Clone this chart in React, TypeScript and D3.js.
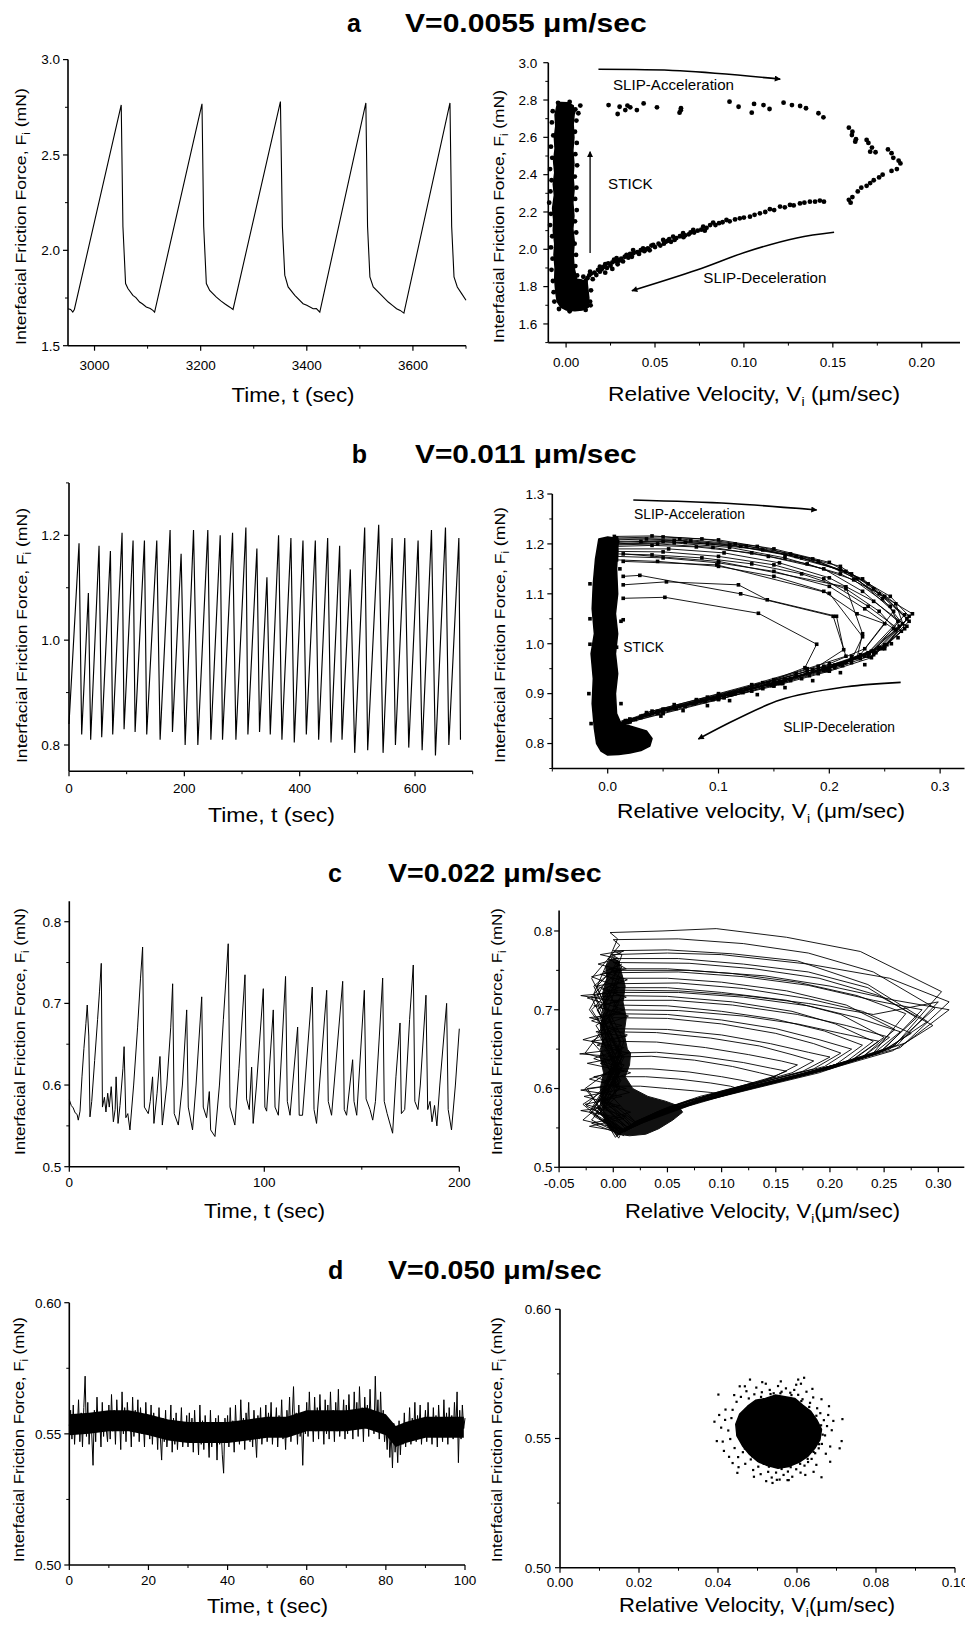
import React from "react";
import * as d3 from "d3";

type P = [number, number];
const FONT = "'Liberation Sans', Arial, Helvetica, sans-serif";

// ---------------- Panel a (V = 0.0055) ----------------
const aLeftSeries: P[] = [
  [2950, 1.694], [2955, 1.69], [2959, 1.676], [2962, 1.69],
  [3050.3, 2.762], [3053.5, 2.125], [3058.5, 1.826], [3062.9, 1.8], [3072.3, 1.764], [3078, 1.752], [3084.9, 1.729], [3090, 1.72], [3097.5, 1.703], [3105, 1.695], [3110, 1.685], [3113.2, 1.676],
  [3202.5, 2.768], [3205.7, 2.125], [3210.7, 1.826], [3217, 1.79], [3229.6, 1.755], [3238, 1.735], [3245.3, 1.72], [3255, 1.702], [3261, 1.69],
  [3350.3, 2.78], [3354, 2.125], [3358.5, 1.87], [3364.8, 1.808], [3377.4, 1.764], [3393, 1.72], [3400, 1.712], [3412, 1.694], [3418, 1.695], [3424.5, 1.676],
  [3511.3, 2.773], [3514.5, 2.125], [3518.9, 1.861], [3525.2, 1.808], [3537.7, 1.773], [3553.5, 1.729], [3562, 1.71], [3569.2, 1.694], [3576, 1.685], [3583, 1.671],
  [3669.8, 2.773], [3673, 2.125], [3677.4, 1.861], [3683.6, 1.808], [3691.8, 1.773], [3700, 1.738],
];

const aStickRegion: P[] = [
  [-0.005, 2.775], [-0.0062, 2.72], [-0.0058, 2.66], [-0.0066, 2.6], [-0.0062, 2.54], [-0.007, 2.47], [-0.0064, 2.41], [-0.0072, 2.35], [-0.0066, 2.29], [-0.0076, 2.22], [-0.007, 2.16], [-0.0072, 2.1], [-0.0064, 2.03], [-0.0068, 1.97], [-0.0062, 1.9], [-0.0064, 1.84], [-0.0058, 1.77], [-0.005, 1.72], [-0.003, 1.69], [0.0, 1.675], [0.005, 1.67], [0.009, 1.675], [0.0125, 1.69], [0.0128, 1.74], [0.0122, 1.79], [0.0118, 1.825], [0.009, 1.835], [0.006, 1.84], [0.0045, 1.9], [0.004, 1.97], [0.0046, 2.04], [0.0038, 2.11], [0.0044, 2.18], [0.0038, 2.25], [0.0045, 2.32], [0.0039, 2.39], [0.0044, 2.46], [0.0038, 2.53], [0.0044, 2.6], [0.004, 2.67], [0.0046, 2.73], [0.004, 2.77], [0.001, 2.785], [-0.003, 2.787],
];
const aStickEdge: P[] = [
  [-0.0075, 2.74], [-0.008, 2.68], [-0.0072, 2.61], [-0.0085, 2.55], [-0.0078, 2.49], [-0.009, 2.43], [-0.0082, 2.37], [-0.0088, 2.31], [-0.0095, 2.25], [-0.0085, 2.19], [-0.009, 2.13], [-0.0078, 2.07], [-0.0085, 2.01], [-0.0076, 1.95], [-0.0082, 1.89], [-0.0074, 1.83], [-0.007, 1.77], [-0.0066, 1.72],
  [0.0052, 2.75], [0.0058, 2.69], [0.005, 2.63], [0.006, 2.57], [0.0052, 2.51], [0.0062, 2.45], [0.0049, 2.39], [0.0058, 2.33], [0.0051, 2.27], [0.006, 2.21], [0.005, 2.15], [0.0057, 2.09], [0.0048, 2.03], [0.0056, 1.97], [0.0052, 1.91], [0.0062, 1.86],
  [0.0135, 1.72], [0.014, 1.78], [0.0138, 1.7], [0.011, 1.675], [0.002, 1.668], [-0.004, 1.68], [0.008, 2.77], [0.002, 2.79], [-0.0045, 2.785],
];

const aSlipPoints: P[] = [
  [0.1447, 2.707], [0.1419, 2.729], [0.1349, 2.756], [0.1316, 2.768], [0.127, 2.773], [0.1223, 2.786], [0.1144, 2.752], [0.111, 2.773], [0.1057, 2.779], [0.1044, 2.732], [0.097, 2.764], [0.0919, 2.791], [0.0646, 2.756], [0.0638, 2.732], [0.0645, 2.745], [0.0511, 2.761], [0.0436, 2.782], [0.0398, 2.746], [0.0361, 2.761], [0.0333, 2.746], [0.0301, 2.764], [0.029, 2.725], [0.0239, 2.773], [0.0345, 2.77], [0.0069, 2.729], [0.0041, 2.737],
  [0.159, 2.652], [0.161, 2.63], [0.1607, 2.612], [0.163, 2.59], [0.1626, 2.577], [0.169, 2.586], [0.17, 2.57], [0.172, 2.545], [0.171, 2.523], [0.174, 2.52], [0.181, 2.535], [0.183, 2.515], [0.184, 2.49], [0.187, 2.475], [0.188, 2.46], [0.186, 2.43], [0.183, 2.42], [0.178, 2.4], [0.176, 2.385], [0.173, 2.37], [0.171, 2.355], [0.169, 2.34], [0.166, 2.33], [0.164, 2.31], [0.161, 2.28], [0.159, 2.265], [0.16, 2.25],
  [0.0097, 1.853], [0.011, 1.83], [0.0135, 1.88], [0.013, 1.86], [0.016, 1.875], [0.018, 1.89], [0.019, 1.907], [0.021, 1.905], [0.022, 1.92], [0.0237, 1.925], [0.026, 1.93], [0.027, 1.945], [0.0284, 1.952], [0.031, 1.95], [0.033, 1.96], [0.034, 1.97], [0.036, 1.975], [0.0377, 1.996], [0.04, 1.985], [0.042, 1.995], [0.0433, 2.005], [0.046, 2.005], [0.048, 2.02], [0.049, 2.023], [0.052, 2.03], [0.0546, 2.05], [0.056, 2.04], [0.058, 2.055], [0.0602, 2.068], [0.062, 2.06], [0.0658, 2.086], [0.067, 2.075], [0.07, 2.09], [0.0715, 2.104], [0.074, 2.1], [0.0771, 2.121], [0.079, 2.115], [0.081, 2.13], [0.0827, 2.143], [0.086, 2.14], [0.0902, 2.157], [0.095, 2.16], [0.0977, 2.166], [0.1034, 2.175], [0.109, 2.193], [0.112, 2.2], [0.1146, 2.215], [0.1203, 2.229], [0.123, 2.225], [0.1259, 2.238], [0.1315, 2.246], [0.1371, 2.255], [0.1427, 2.261],
  [0.012, 1.845], [0.014, 1.87], [0.015, 1.84], [0.017, 1.862], [0.019, 1.88], [0.02, 1.893], [0.022, 1.875], [0.023, 1.9], [0.025, 1.912], [0.026, 1.895], [0.028, 1.935], [0.029, 1.92], [0.03, 1.94], [0.032, 1.935], [0.035, 1.955], [0.037, 1.96], [0.038, 1.98], [0.041, 1.975], [0.044, 1.99], [0.045, 2.0], [0.047, 1.995], [0.05, 2.012], [0.053, 2.02], [0.055, 2.03], [0.057, 2.045], [0.059, 2.04], [0.061, 2.05], [0.064, 2.07], [0.066, 2.065], [0.069, 2.08], [0.072, 2.09], [0.076, 2.105], [0.078, 2.1], [0.084, 2.13], [0.088, 2.145], [0.092, 2.15], [0.1, 2.17], [0.106, 2.185], [0.117, 2.21], [0.128, 2.235], [0.134, 2.25], [0.14, 2.255], [0.145, 2.255],
];

const aAccArrow: P[] = [[0.0182, 2.965], [0.0641, 2.957], [0.1204, 2.912]];
const aDecArrow: P[] = [[0.1507, 2.091], [0.1297, 2.061], [0.1016, 1.987], [0.0735, 1.889], [0.037, 1.778]];
const aStickArrow: P[] = [[0.0135, 1.98], [0.0135, 2.523]];

// ---------------- Panel b (V = 0.011) ----------------
const bLeftSeries: P[] = [
  [0, 0.84], [17.4, 1.185], [22.0, 0.82], [33.6, 1.09], [37.6, 0.81], [52.1, 1.18], [56.7, 0.815], [71.8, 1.17], [75.8, 0.82], [92.0, 1.205], [95.5, 0.83], [111.1, 1.19], [114.6, 0.825], [130.8, 1.19], [134.8, 0.82], [152.2, 1.19], [158.0, 0.81], [175.3, 1.21], [179.4, 0.825], [194.4, 1.165], [201.4, 0.8], [215.9, 1.21], [223.4, 0.8], [240.7, 1.21], [246.0, 0.81], [262.2, 1.2], [266.2, 0.81], [283.6, 1.205], [289.4, 0.81], [306.7, 1.215], [310.2, 0.82], [325.8, 1.175], [330.4, 0.825], [343.2, 1.12], [349.0, 0.82], [363.4, 1.2], [369.2, 0.81], [384.8, 1.195], [390.6, 0.805], [405.7, 1.19], [411.5, 0.82], [427.1, 1.19], [432.9, 0.81], [448.5, 1.195], [454.3, 0.805], [469.3, 1.18], [473.4, 0.81], [487.8, 1.135], [495.4, 0.785], [512.7, 1.215], [517.9, 0.79], [537.0, 1.22], [544.6, 0.785], [560.2, 1.195], [566.0, 0.8], [582.2, 1.195], [589.1, 0.795], [605.3, 1.19], [612.3, 0.79], [628.5, 1.21], [635.4, 0.78], [652.8, 1.215], [658.6, 0.8], [676.0, 1.195], [678.8, 0.81],
];

const bStickRegion: P[] = [
  [-0.008, 1.21], [-0.011, 1.17], [-0.013, 1.12], [-0.014, 1.07], [-0.012, 1.02], [-0.015, 0.98], [-0.013, 0.93], [-0.014, 0.88], [-0.012, 0.83], [-0.01, 0.8], [-0.006, 0.785], [0.0, 0.777], [0.01, 0.778], [0.02, 0.781], [0.03, 0.786], [0.038, 0.795], [0.04, 0.81], [0.035, 0.825], [0.02, 0.835], [0.012, 0.84], [0.008, 0.86], [0.007, 0.9], [0.009, 0.94], [0.007, 0.98], [0.009, 1.02], [0.007, 1.06], [0.009, 1.1], [0.008, 1.15], [0.009, 1.19], [0.006, 1.212], [0.0, 1.214],
];
const bStickStray: P[] = [[-0.016, 0.999], [0.008, 0.993], [0.014, 1.048], [0.012, 1.045], [-0.016, 1.12], [0.011, 0.83], [-0.017, 0.9], [-0.016, 1.05], [0.011, 1.15], [-0.015, 0.84], [0.012, 0.88]];

const bLoops: P[][] = [
  [[0.008, 1.212], [0.05, 1.214], [0.1, 1.208], [0.15, 1.19], [0.2, 1.163], [0.235, 1.12], [0.268, 1.058], [0.24, 0.985], [0.2, 0.952], [0.15, 0.921], [0.1, 0.893], [0.05, 0.866], [0.02, 0.845]],
  [[0.009, 1.205], [0.06, 1.207], [0.11, 1.198], [0.16, 1.178], [0.21, 1.148], [0.245, 1.1], [0.275, 1.06], [0.245, 0.99], [0.21, 0.958], [0.16, 0.926], [0.11, 0.898], [0.06, 0.872], [0.02, 0.848]],
  [[0.008, 1.198], [0.045, 1.2], [0.095, 1.193], [0.145, 1.175], [0.195, 1.15], [0.23, 1.105], [0.262, 1.045], [0.235, 0.982], [0.195, 0.95], [0.145, 0.918], [0.095, 0.89], [0.045, 0.862], [0.015, 0.842]],
  [[0.008, 1.19], [0.055, 1.19], [0.105, 1.182], [0.155, 1.162], [0.2, 1.132], [0.24, 1.085], [0.27, 1.035], [0.24, 0.978], [0.2, 0.947], [0.155, 0.92], [0.105, 0.892], [0.055, 0.868], [0.02, 0.846]],
  [[0.008, 1.185], [0.05, 1.184], [0.1, 1.175], [0.15, 1.158], [0.195, 1.13], [0.235, 1.075], [0.265, 1.025], [0.238, 0.972], [0.2, 0.945], [0.15, 0.915], [0.1, 0.889], [0.05, 0.862], [0.02, 0.843]],
  [[0.007, 1.21], [0.065, 1.21], [0.115, 1.2], [0.165, 1.18], [0.21, 1.155], [0.24, 1.11], [0.27, 1.05], [0.25, 0.995], [0.215, 0.962], [0.165, 0.93], [0.115, 0.9], [0.065, 0.875], [0.02, 0.849]],
  [[0.008, 1.175], [0.05, 1.172], [0.1, 1.162], [0.15, 1.145], [0.2, 1.115], [0.232, 1.07], [0.258, 1.03], [0.232, 0.975], [0.195, 0.946], [0.15, 0.918], [0.1, 0.888], [0.05, 0.86], [0.018, 0.842]],
  [[0.008, 1.2], [0.06, 1.202], [0.11, 1.193], [0.16, 1.172], [0.21, 1.14], [0.25, 1.095], [0.272, 1.045], [0.25, 0.998], [0.21, 0.96], [0.16, 0.928], [0.11, 0.9], [0.06, 0.87], [0.02, 0.846]],
  [[0.008, 1.168], [0.045, 1.165], [0.1, 1.155], [0.15, 1.135], [0.195, 1.105], [0.225, 1.06], [0.25, 1.04], [0.228, 0.978], [0.19, 0.948], [0.145, 0.92], [0.1, 0.892], [0.05, 0.865], [0.02, 0.845]],
  [[0.006, 1.215], [0.04, 1.216], [0.085, 1.21], [0.135, 1.195], [0.185, 1.17], [0.225, 1.13], [0.258, 1.065], [0.232, 0.99], [0.195, 0.955], [0.15, 0.925], [0.1, 0.895], [0.05, 0.868], [0.018, 0.846]],
  [[0.014, 1.091], [0.0516, 1.093], [0.136, 1.061], [0.1886, 0.999], [0.178, 0.952], [0.15, 0.928], [0.1, 0.897], [0.05, 0.869], [0.02, 0.848]],
  [[0.014, 1.118], [0.053, 1.124], [0.118, 1.118], [0.144, 1.088], [0.2065, 1.055], [0.213, 0.988], [0.19, 0.955], [0.14, 0.922], [0.09, 0.893], [0.04, 0.865], [0.016, 0.846]],
  [[0.014, 1.135], [0.029, 1.137], [0.12, 1.1], [0.2035, 1.055], [0.215, 0.975], [0.18, 0.95], [0.13, 0.918], [0.08, 0.888], [0.035, 0.862]],
  [[0.014, 1.165], [0.0985, 1.158], [0.2, 1.101], [0.23, 1.014], [0.22, 0.968], [0.18, 0.945], [0.13, 0.915], [0.08, 0.885], [0.03, 0.855]],
  [[0.014, 1.18], [0.1, 1.165], [0.215, 1.114], [0.23, 1.02], [0.225, 0.972], [0.185, 0.948], [0.135, 0.917], [0.085, 0.887], [0.035, 0.858]],
  [[0.008, 1.203], [0.03, 1.205], [0.07, 1.203], [0.12, 1.195], [0.17, 1.175], [0.215, 1.145], [0.248, 1.09], [0.266, 1.04], [0.245, 0.993], [0.205, 0.957], [0.16, 0.928], [0.12, 0.905], [0.08, 0.883], [0.04, 0.862], [0.015, 0.843]],
  [[0.008, 1.195], [0.04, 1.197], [0.08, 1.194], [0.13, 1.182], [0.18, 1.16], [0.222, 1.128], [0.255, 1.075], [0.263, 1.035], [0.238, 0.985], [0.2, 0.952], [0.155, 0.925], [0.115, 0.902], [0.075, 0.88], [0.035, 0.858], [0.012, 0.84]],
  [[0.008, 1.208], [0.035, 1.21], [0.075, 1.206], [0.125, 1.196], [0.175, 1.172], [0.22, 1.14], [0.255, 1.095], [0.272, 1.055], [0.252, 0.998], [0.215, 0.963], [0.17, 0.934], [0.125, 0.908], [0.085, 0.886], [0.045, 0.864], [0.016, 0.845]],
  [[0.008, 1.18], [0.04, 1.178], [0.085, 1.172], [0.13, 1.16], [0.175, 1.14], [0.215, 1.11], [0.245, 1.065], [0.26, 1.028], [0.236, 0.98], [0.198, 0.949], [0.152, 0.921], [0.11, 0.897], [0.07, 0.876], [0.032, 0.856], [0.012, 0.84]],
  [[0.008, 1.2], [0.05, 1.205], [0.09, 1.2], [0.14, 1.188], [0.19, 1.165], [0.23, 1.13], [0.26, 1.08], [0.268, 1.03], [0.248, 0.99], [0.208, 0.958], [0.165, 0.93], [0.12, 0.905], [0.08, 0.882], [0.04, 0.861], [0.014, 0.843]],
];
const bLowerPts: P[] = [
  [0.03, 0.852], [0.038, 0.858], [0.045, 0.86], [0.055, 0.868], [0.062, 0.87], [0.07, 0.874], [0.078, 0.88], [0.088, 0.884], [0.095, 0.888], [0.105, 0.892], [0.112, 0.898], [0.122, 0.902], [0.13, 0.905], [0.14, 0.91], [0.148, 0.916], [0.158, 0.92], [0.165, 0.926], [0.175, 0.93], [0.182, 0.936], [0.19, 0.94], [0.198, 0.946], [0.205, 0.952], [0.212, 0.956], [0.22, 0.962], [0.228, 0.97], [0.235, 0.975], [0.242, 0.982], [0.25, 0.99], [0.256, 1.0], [0.262, 1.012],
  [0.048, 0.855], [0.068, 0.866], [0.09, 0.876], [0.11, 0.886], [0.135, 0.898], [0.16, 0.912], [0.185, 0.926], [0.21, 0.942], [0.232, 0.958], [0.025, 0.848], [0.06, 0.878], [0.1, 0.9], [0.145, 0.922], [0.17, 0.94], [0.2, 0.96], [0.22, 0.975],
];

const bAccArrow: P[] = [[0.0231, 1.288], [0.1104, 1.281], [0.1886, 1.268]];
const bDecArrow: P[] = [[0.2644, 0.9226], [0.2157, 0.9138], [0.1555, 0.8872], [0.0818, 0.809]];

// ---------------- Panel c (V = 0.022) ----------------
const cLeftSeries: P[] = [
  [0, 0.582], [1, 0.575], [2, 0.572], [3, 0.566], [4, 0.564], [4.6, 0.557], [5.5, 0.568], [6.5, 0.61], [7.5, 0.645], [8.5, 0.675], [9.2, 0.698], [10, 0.66], [10.6, 0.561], [11.5, 0.58], [13, 0.63], [14.5, 0.68], [15.5, 0.715], [16.4, 0.749], [17, 0.573], [18, 0.585], [18.8, 0.567], [19.7, 0.59], [20.5, 0.573], [21.5, 0.598], [22.6, 0.555], [23.5, 0.57], [24, 0.61], [25, 0.553], [26, 0.575], [27.5, 0.62], [28.1, 0.647], [29, 0.56], [30, 0.565], [31.1, 0.545], [33, 0.6], [35, 0.67], [36.5, 0.73], [37.6, 0.769], [38.5, 0.573], [40.5, 0.565], [41.5, 0.58], [42.7, 0.61], [43.4, 0.553], [45, 0.59], [46.5, 0.635], [47.7, 0.551], [50, 0.6], [52, 0.67], [53, 0.724], [53.8, 0.565], [55.9, 0.551], [58, 0.6], [60.2, 0.692], [61, 0.573], [63.2, 0.545], [65, 0.6], [67.9, 0.708], [68.7, 0.573], [70.4, 0.56], [71.8, 0.592], [72.5, 0.545], [74.7, 0.537], [77, 0.6], [79, 0.68], [81.5, 0.773], [82.4, 0.573], [84.9, 0.551], [87, 0.62], [90.1, 0.735], [90.9, 0.583], [92.3, 0.57], [93.5, 0.622], [94.3, 0.553], [96, 0.6], [99.5, 0.718], [100.3, 0.573], [101.2, 0.568], [104.6, 0.692], [105.5, 0.573], [107.2, 0.563], [110.9, 0.733], [111.8, 0.58], [113.2, 0.563], [117.1, 0.671], [117.9, 0.563], [119.6, 0.563], [124.6, 0.72], [125.5, 0.57], [126.8, 0.553], [132, 0.716], [132.8, 0.58], [134.5, 0.563], [140.2, 0.727], [141, 0.57], [142.2, 0.563], [145.3, 0.631], [146, 0.58], [147.4, 0.563], [151.3, 0.716], [152.2, 0.583], [154.2, 0.57], [155.6, 0.557], [157, 0.58], [159, 0.66], [160.7, 0.731], [161.5, 0.58], [163, 0.565], [165.8, 0.541], [167.5, 0.61], [169.6, 0.676], [170.3, 0.565], [172, 0.57], [174.5, 0.68], [176.4, 0.747], [177.2, 0.58], [178.8, 0.57], [180, 0.6], [182.9, 0.71], [183.8, 0.57], [185, 0.58], [186, 0.555], [187.3, 0.575], [188.5, 0.55], [190, 0.6], [193.5, 0.7], [194.3, 0.57], [196, 0.545], [198, 0.6], [200, 0.669],
];

const cStickRegion: P[] = [
  [-0.002, 0.765], [0.005, 0.762], [0.007, 0.75], [0.011, 0.73], [0.009, 0.71], [0.012, 0.69], [0.01, 0.67], [0.013, 0.65], [0.016, 0.645], [0.015, 0.63], [0.011, 0.615], [0.018, 0.6], [0.032, 0.59], [0.048, 0.584], [0.06, 0.578], [0.064, 0.57], [0.055, 0.56], [0.042, 0.549], [0.03, 0.542], [0.015, 0.54], [0.005, 0.542], [-0.004, 0.55], [-0.008, 0.56], [-0.01, 0.58], [-0.012, 0.6], [-0.009, 0.62], [-0.012, 0.64], [-0.01, 0.66], [-0.012, 0.68], [-0.008, 0.7], [-0.01, 0.72], [-0.006, 0.74], [-0.007, 0.755],
];
const cStickJitter: P[] = [
  [0.01, 0.54], [-0.02, 0.556], [0.012, 0.565], [-0.026, 0.58], [0.008, 0.59], [-0.03, 0.598], [0.004, 0.605], [-0.018, 0.615], [0.01, 0.622], [-0.024, 0.632], [0.006, 0.64], [-0.031, 0.644], [0.005, 0.65], [-0.02, 0.66], [0.012, 0.666], [-0.016, 0.672], [0.008, 0.68], [-0.022, 0.69], [0.01, 0.695], [-0.018, 0.705], [0.006, 0.71], [-0.03, 0.718], [0.004, 0.722], [-0.016, 0.73], [0.01, 0.736], [-0.012, 0.745], [0.008, 0.75], [-0.014, 0.758], [0.004, 0.765], [-0.012, 0.77], [0.01, 0.775], [-0.005, 0.765], [0.012, 0.752], [-0.02, 0.742], [0.006, 0.728], [-0.024, 0.715], [0.01, 0.7], [-0.02, 0.686], [0.004, 0.675], [-0.028, 0.662], [0.01, 0.652], [-0.018, 0.638], [0.008, 0.626], [-0.022, 0.612], [0.012, 0.6], [-0.027, 0.59], [0.006, 0.578], [-0.03, 0.572], [0.01, 0.562], [-0.022, 0.552], [0.004, 0.546], [-0.01, 0.56], [0.016, 0.57], [-0.014, 0.585], [0.015, 0.595], [-0.01, 0.608], [0.016, 0.62], [-0.012, 0.632], [0.014, 0.645], [-0.015, 0.655], [0.013, 0.668], [-0.011, 0.68], [0.014, 0.692], [-0.013, 0.703], [0.012, 0.716], [-0.01, 0.726], [0.013, 0.738], [-0.009, 0.748], [0.008, 0.758],
];

const cLoops: P[][] = [
  [[0.02, 0.556], [-0.012, 0.585], [0.006, 0.64], [-0.018, 0.72], [0.004, 0.79], [-0.003, 0.798], [0.045, 0.8], [0.095, 0.803], [0.16, 0.792], [0.228, 0.774], [0.303, 0.723], [0.26, 0.655], [0.2, 0.625], [0.14, 0.604], [0.085, 0.585], [0.04, 0.566], [0.02, 0.556]],
  [[0.02, 0.558], [-0.008, 0.6], [0.01, 0.66], [-0.02, 0.74], [0.006, 0.782], [0.0, 0.789], [0.06, 0.79], [0.12, 0.784], [0.18, 0.772], [0.24, 0.748], [0.297, 0.702], [0.255, 0.65], [0.19, 0.62], [0.13, 0.6], [0.08, 0.583], [0.035, 0.562], [0.015, 0.55]],
  [[0.015, 0.55], [-0.025, 0.578], [0.004, 0.62], [-0.01, 0.7], [0.008, 0.77], [0.0, 0.775], [0.05, 0.776], [0.11, 0.771], [0.17, 0.762], [0.235, 0.732], [0.29, 0.685], [0.25, 0.648], [0.19, 0.622], [0.125, 0.6], [0.07, 0.58], [0.03, 0.56], [0.01, 0.545]],
  [[0.01, 0.545], [-0.015, 0.57], [0.01, 0.64], [-0.022, 0.7], [0.005, 0.765], [-0.002, 0.77], [0.05, 0.772], [0.1, 0.77], [0.18, 0.758], [0.255, 0.74], [0.31, 0.71], [0.265, 0.652], [0.2, 0.627], [0.14, 0.606], [0.08, 0.586], [0.04, 0.568], [0.02, 0.558]],
  [[0.02, 0.558], [-0.01, 0.59], [0.008, 0.65], [-0.015, 0.73], [0.006, 0.76], [0.0, 0.765], [0.06, 0.765], [0.12, 0.758], [0.18, 0.748], [0.235, 0.728], [0.28, 0.69], [0.245, 0.645], [0.18, 0.618], [0.12, 0.598], [0.07, 0.578], [0.03, 0.558], [0.01, 0.548]],
  [[0.01, 0.548], [-0.02, 0.575], [0.005, 0.63], [-0.012, 0.69], [0.008, 0.755], [0.0, 0.76], [0.07, 0.759], [0.13, 0.752], [0.19, 0.74], [0.245, 0.718], [0.295, 0.68], [0.258, 0.648], [0.2, 0.625], [0.135, 0.603], [0.075, 0.582], [0.035, 0.563], [0.015, 0.553]],
  [[0.015, 0.553], [-0.012, 0.59], [0.007, 0.66], [-0.018, 0.72], [0.004, 0.748], [-0.004, 0.752], [0.05, 0.752], [0.11, 0.746], [0.17, 0.735], [0.225, 0.718], [0.27, 0.695], [0.24, 0.645], [0.18, 0.62], [0.12, 0.6], [0.065, 0.578], [0.03, 0.558], [0.012, 0.547]],
  [[0.012, 0.547], [-0.028, 0.56], [0.006, 0.6], [-0.01, 0.68], [0.006, 0.742], [0.0, 0.747], [0.06, 0.748], [0.12, 0.742], [0.18, 0.731], [0.24, 0.712], [0.285, 0.7], [0.25, 0.65], [0.19, 0.624], [0.13, 0.602], [0.075, 0.582], [0.035, 0.562], [0.018, 0.552]],
  [[0.018, 0.552], [-0.01, 0.58], [0.008, 0.64], [-0.02, 0.7], [0.005, 0.735], [-0.003, 0.74], [0.05, 0.74], [0.1, 0.735], [0.16, 0.724], [0.215, 0.706], [0.26, 0.675], [0.23, 0.64], [0.17, 0.617], [0.11, 0.597], [0.06, 0.577], [0.028, 0.558], [0.01, 0.546]],
  [[0.01, 0.546], [-0.018, 0.575], [0.01, 0.63], [-0.026, 0.645], [0.004, 0.7], [-0.006, 0.728], [0.0, 0.733], [0.06, 0.734], [0.12, 0.727], [0.18, 0.714], [0.23, 0.698], [0.275, 0.67], [0.245, 0.645], [0.185, 0.62], [0.125, 0.6], [0.07, 0.58], [0.032, 0.56], [0.014, 0.55]],
  [[0.014, 0.55], [-0.012, 0.58], [0.006, 0.65], [-0.015, 0.7], [0.004, 0.724], [-0.002, 0.728], [0.05, 0.728], [0.1, 0.722], [0.16, 0.712], [0.21, 0.694], [0.25, 0.665], [0.22, 0.636], [0.165, 0.615], [0.105, 0.595], [0.055, 0.574], [0.025, 0.556], [0.01, 0.545]],
  [[0.01, 0.545], [-0.02, 0.57], [0.005, 0.62], [-0.01, 0.68], [0.007, 0.717], [0.0, 0.722], [0.06, 0.722], [0.12, 0.716], [0.18, 0.705], [0.225, 0.69], [0.265, 0.672], [0.238, 0.642], [0.18, 0.62], [0.12, 0.599], [0.065, 0.579], [0.03, 0.559], [0.014, 0.549]],
  [[0.014, 0.549], [-0.014, 0.585], [0.008, 0.64], [-0.02, 0.715], [0.0, 0.718], [0.05, 0.717], [0.11, 0.71], [0.165, 0.698], [0.205, 0.682], [0.24, 0.66], [0.215, 0.634], [0.16, 0.613], [0.1, 0.593], [0.05, 0.572], [0.022, 0.555], [0.008, 0.544]],
  [[0.008, 0.544], [-0.018, 0.565], [0.006, 0.61], [-0.012, 0.67], [0.005, 0.708], [-0.002, 0.712], [0.055, 0.712], [0.11, 0.706], [0.17, 0.694], [0.215, 0.68], [0.255, 0.665], [0.228, 0.638], [0.17, 0.617], [0.11, 0.597], [0.06, 0.577], [0.028, 0.558], [0.012, 0.548]],
  [[0.012, 0.548], [-0.01, 0.58], [0.008, 0.64], [-0.015, 0.69], [0.004, 0.703], [0.0, 0.706], [0.05, 0.705], [0.1, 0.698], [0.15, 0.688], [0.195, 0.673], [0.23, 0.655], [0.205, 0.63], [0.15, 0.611], [0.095, 0.592], [0.05, 0.572], [0.022, 0.555], [0.008, 0.545]],
  [[0.008, 0.545], [-0.022, 0.57], [0.006, 0.62], [-0.014, 0.67], [0.0, 0.7], [0.06, 0.699], [0.12, 0.692], [0.17, 0.682], [0.21, 0.67], [0.245, 0.66], [0.22, 0.635], [0.165, 0.614], [0.105, 0.594], [0.055, 0.574], [0.025, 0.556], [0.01, 0.546]],
  [[0.01, 0.546], [-0.012, 0.575], [0.008, 0.63], [-0.016, 0.68], [0.0, 0.695], [0.05, 0.694], [0.1, 0.687], [0.15, 0.676], [0.19, 0.662], [0.22, 0.65], [0.195, 0.628], [0.14, 0.609], [0.09, 0.591], [0.045, 0.57], [0.02, 0.554], [0.006, 0.543]],
  [[0.006, 0.543], [-0.02, 0.56], [0.004, 0.6], [-0.012, 0.65], [0.0, 0.69], [0.05, 0.689], [0.1, 0.682], [0.15, 0.67], [0.185, 0.657], [0.21, 0.645], [0.185, 0.625], [0.135, 0.607], [0.085, 0.589], [0.045, 0.57], [0.02, 0.554], [0.008, 0.545]],
  [[0.008, 0.545], [-0.014, 0.575], [0.006, 0.62], [-0.02, 0.66], [0.0, 0.676], [0.05, 0.675], [0.1, 0.668], [0.145, 0.657], [0.18, 0.646], [0.2, 0.64], [0.175, 0.622], [0.125, 0.604], [0.08, 0.587], [0.04, 0.568], [0.018, 0.553], [0.006, 0.544]],
  [[0.006, 0.544], [-0.026, 0.6], [0.004, 0.63], [-0.01, 0.66], [0.0, 0.672], [0.04, 0.671], [0.09, 0.664], [0.135, 0.654], [0.165, 0.643], [0.185, 0.635], [0.165, 0.62], [0.12, 0.603], [0.075, 0.586], [0.04, 0.568], [0.018, 0.553], [0.006, 0.544]],
  [[0.006, 0.544], [-0.012, 0.57], [0.006, 0.62], [-0.008, 0.65], [0.0, 0.66], [0.04, 0.659], [0.085, 0.652], [0.125, 0.643], [0.155, 0.635], [0.17, 0.63], [0.15, 0.616], [0.11, 0.6], [0.07, 0.584], [0.035, 0.566], [0.015, 0.552], [0.005, 0.542]],
  [[0.005, 0.542], [-0.028, 0.58], [0.005, 0.61], [-0.01, 0.635], [0.0, 0.645], [0.04, 0.646], [0.08, 0.641], [0.12, 0.633], [0.145, 0.626], [0.16, 0.622], [0.14, 0.611], [0.1, 0.597], [0.065, 0.582], [0.033, 0.565], [0.014, 0.551], [0.004, 0.541]],
  [[0.004, 0.541], [-0.01, 0.57], [0.007, 0.61], [-0.005, 0.635], [0.0, 0.64], [0.035, 0.641], [0.075, 0.636], [0.11, 0.628], [0.135, 0.62], [0.15, 0.615], [0.13, 0.606], [0.095, 0.594], [0.06, 0.58], [0.03, 0.563], [0.012, 0.55], [0.004, 0.54]],
  [[0.004, 0.54], [-0.015, 0.565], [0.005, 0.6], [-0.004, 0.62], [0.0, 0.625], [0.035, 0.625], [0.07, 0.621], [0.1, 0.615], [0.12, 0.61], [0.13, 0.607], [0.11, 0.6], [0.08, 0.59], [0.05, 0.576], [0.026, 0.561], [0.01, 0.549], [0.003, 0.54]],
  [[0.003, 0.54], [-0.024, 0.6], [0.004, 0.605], [0.0, 0.615], [0.03, 0.615], [0.06, 0.612], [0.09, 0.607], [0.108, 0.603], [0.115, 0.6], [0.098, 0.594], [0.07, 0.585], [0.045, 0.573], [0.022, 0.559], [0.008, 0.547], [0.002, 0.538]],
  [[0.002, 0.538], [-0.012, 0.57], [0.003, 0.59], [0.0, 0.603], [0.025, 0.603], [0.05, 0.6], [0.075, 0.597], [0.09, 0.595], [0.095, 0.594], [0.08, 0.588], [0.06, 0.58], [0.04, 0.57], [0.02, 0.557], [0.008, 0.546], [0.005, 0.537]],
  [[0.005, 0.537], [-0.016, 0.58], [0.008, 0.64], [-0.014, 0.7], [0.0, 0.725], [0.06, 0.724], [0.12, 0.718], [0.18, 0.708], [0.24, 0.694], [0.3, 0.71], [0.262, 0.655], [0.2, 0.626], [0.14, 0.605], [0.08, 0.584], [0.04, 0.566], [0.018, 0.553]],
  [[0.018, 0.553], [-0.01, 0.59], [0.006, 0.66], [-0.018, 0.73], [0.0, 0.75], [0.07, 0.75], [0.14, 0.743], [0.2, 0.73], [0.26, 0.712], [0.31, 0.7], [0.27, 0.658], [0.21, 0.63], [0.15, 0.609], [0.09, 0.588], [0.045, 0.568], [0.02, 0.556]],
];

// ---------------- Panel d (V = 0.050) ----------------
const dLeftStep = 1 / 3; // sampling interval, sec
const dLeftForce: number[] = [
  0.553, 0.559, 0.548, 0.561, 0.546, 0.557, 0.551, 0.563, 0.547, 0.558, 0.545, 0.56, 0.572, 0.549, 0.562, 0.546, 0.556, 0.55, 0.538, 0.559, 0.547, 0.564, 0.551, 0.557, 0.545, 0.562, 0.549, 0.558, 0.552, 0.547,
  0.561, 0.548, 0.565, 0.551, 0.559, 0.546, 0.563, 0.552, 0.557, 0.544, 0.566, 0.55, 0.56, 0.547, 0.562, 0.553, 0.558, 0.545, 0.564, 0.549, 0.559, 0.552, 0.563, 0.547, 0.56, 0.55, 0.556, 0.545, 0.562, 0.551,
  0.557, 0.548, 0.561, 0.546, 0.558, 0.55, 0.555, 0.544, 0.56, 0.549, 0.54, 0.556, 0.547, 0.559, 0.545, 0.553, 0.549, 0.561, 0.543, 0.556, 0.546, 0.558, 0.544, 0.554, 0.548, 0.56, 0.545, 0.552, 0.547, 0.557,
  0.545, 0.558, 0.547, 0.556, 0.543, 0.559, 0.548, 0.553, 0.542, 0.561, 0.546, 0.555, 0.544, 0.557, 0.549, 0.552, 0.541, 0.559, 0.545, 0.554, 0.547, 0.556, 0.54, 0.557, 0.546, 0.553, 0.542, 0.535, 0.556, 0.548,
  0.557, 0.545, 0.56, 0.548, 0.555, 0.543, 0.561, 0.549, 0.554, 0.546, 0.563, 0.55, 0.556, 0.544, 0.558, 0.551, 0.562, 0.547, 0.555, 0.545, 0.559, 0.55, 0.541, 0.557, 0.548, 0.56, 0.546, 0.554, 0.549, 0.561,
  0.547, 0.558, 0.55, 0.562, 0.546, 0.556, 0.551, 0.56, 0.545, 0.557, 0.549, 0.563, 0.548, 0.555, 0.544, 0.559, 0.551, 0.564, 0.547, 0.556, 0.568, 0.55, 0.558, 0.546, 0.561, 0.549, 0.555, 0.538, 0.557, 0.55,
  0.562, 0.549, 0.566, 0.552, 0.558, 0.547, 0.564, 0.551, 0.56, 0.548, 0.565, 0.553, 0.557, 0.546, 0.563, 0.55, 0.561, 0.548, 0.566, 0.552, 0.559, 0.547, 0.562, 0.551, 0.567, 0.549, 0.558, 0.553, 0.563, 0.548,
  0.561, 0.55, 0.565, 0.553, 0.559, 0.548, 0.566, 0.552, 0.562, 0.549, 0.568, 0.554, 0.56, 0.547, 0.564, 0.552, 0.561, 0.549, 0.567, 0.553, 0.558, 0.55, 0.572, 0.552, 0.563, 0.548, 0.566, 0.551, 0.559, 0.547,
  0.553, 0.544, 0.556, 0.541, 0.551, 0.537, 0.554, 0.543, 0.55, 0.539, 0.555, 0.542, 0.552, 0.546, 0.558, 0.545, 0.554, 0.548, 0.56, 0.546, 0.556, 0.549, 0.562, 0.547, 0.557, 0.55, 0.561, 0.546, 0.555, 0.551,
  0.559, 0.547, 0.562, 0.55, 0.556, 0.546, 0.56, 0.549, 0.557, 0.545, 0.561, 0.551, 0.555, 0.547, 0.563, 0.549, 0.558, 0.546, 0.56, 0.55, 0.557, 0.548, 0.562, 0.551, 0.566, 0.539, 0.559, 0.548, 0.561, 0.552, 0.556,
];
// dense core of the noise band (upper / lower edge of the solid black region)
const dBandUpper: P[] = [[0, 0.5575], [5, 0.558], [10, 0.559], [15, 0.559], [20, 0.5575], [25, 0.5555], [30, 0.5545], [35, 0.5545], [40, 0.5545], [45, 0.5555], [50, 0.5565], [55, 0.5565], [60, 0.559], [65, 0.559], [70, 0.559], [75, 0.56], [80, 0.5575], [82.5, 0.553], [85, 0.5545], [90, 0.5565], [95, 0.5565], [99.7, 0.5565]];
const dBandLower: P[] = [[0, 0.5495], [5, 0.55], [10, 0.551], [15, 0.551], [20, 0.5495], [25, 0.5475], [30, 0.5465], [35, 0.5465], [40, 0.5465], [45, 0.5475], [50, 0.5485], [55, 0.5485], [60, 0.551], [65, 0.551], [70, 0.551], [75, 0.552], [80, 0.5495], [82.5, 0.545], [85, 0.5465], [90, 0.5485], [95, 0.5485], [99.7, 0.5485]];

const dCoreRegion: P[] = [
  [0.0445, 0.5555], [0.0455, 0.5595], [0.0475, 0.5625], [0.0495, 0.5648], [0.052, 0.5655], [0.0545, 0.5668], [0.057, 0.5662], [0.0595, 0.5655], [0.0615, 0.5628], [0.0635, 0.5605], [0.065, 0.5572], [0.0662, 0.5535], [0.0658, 0.5495], [0.0645, 0.5462], [0.0628, 0.5432], [0.0605, 0.5408], [0.058, 0.5392], [0.0552, 0.5385], [0.0525, 0.5395], [0.05, 0.5412], [0.048, 0.5438], [0.0462, 0.5472], [0.0448, 0.551],
];
const dRightPoints: P[] = [
  [0.0418, 0.5572], [0.0431, 0.5498], [0.0426, 0.5531], [0.0437, 0.5611], [0.0442, 0.5463], [0.0434, 0.5579], [0.0447, 0.5642], [0.0451, 0.5428], [0.0449, 0.5517], [0.0458, 0.5661], [0.0463, 0.5447], [0.0469, 0.5402], [0.0472, 0.5683], [0.0478, 0.5655], [0.0483, 0.5419], [0.0489, 0.5378], [0.0492, 0.5671], [0.0497, 0.5697], [0.0502, 0.5391], [0.0508, 0.5362], [0.0511, 0.5679], [0.0516, 0.5402], [0.0521, 0.5712], [0.0527, 0.5371], [0.0531, 0.5688], [0.0536, 0.5349], [0.0541, 0.5675], [0.0547, 0.5368], [0.0552, 0.5703], [0.0556, 0.5341], [0.0561, 0.5681], [0.0566, 0.5359], [0.0572, 0.5694], [0.0577, 0.5372], [0.0583, 0.5677], [0.0588, 0.5352], [0.0593, 0.5688], [0.0598, 0.5381], [0.0603, 0.5669], [0.0609, 0.5368], [0.0614, 0.5652], [0.0619, 0.5395], [0.0624, 0.5681], [0.0628, 0.5409], [0.0633, 0.5638], [0.0637, 0.5421], [0.0641, 0.5659], [0.0646, 0.5443], [0.0651, 0.5617], [0.0655, 0.5462], [0.0659, 0.5598], [0.0663, 0.5479], [0.0668, 0.5571], [0.0671, 0.5512], [0.0676, 0.5548], [0.0679, 0.5591], [0.0684, 0.5469], [0.0688, 0.5532], [0.0692, 0.5568], [0.0681, 0.5625], [0.0673, 0.5441], [0.0662, 0.5652], [0.0649, 0.5398], [0.0639, 0.5692], [0.0621, 0.5359], [0.0598, 0.5708], [0.0579, 0.5339], [0.0559, 0.5721], [0.0538, 0.5328], [0.0512, 0.5718], [0.0491, 0.5352], [0.0468, 0.5702], [0.0452, 0.5389], [0.0441, 0.5668], [0.0428, 0.5429], [0.0419, 0.5612], [0.0412, 0.5488], [0.0408, 0.5542], [0.0403, 0.5591], [0.0415, 0.5452],
  [0.0452, 0.5538], [0.0459, 0.5582], [0.0461, 0.5491], [0.0471, 0.5612], [0.0468, 0.5461], [0.0489, 0.5632], [0.0487, 0.5431], [0.0509, 0.5661], [0.0506, 0.5409], [0.0533, 0.5672], [0.0529, 0.5391], [0.0558, 0.5675], [0.0561, 0.5382], [0.0586, 0.5668], [0.0584, 0.5389], [0.0611, 0.5645], [0.0608, 0.5402], [0.0631, 0.5622], [0.0627, 0.5421], [0.0649, 0.5588], [0.0642, 0.5448], [0.0661, 0.5551], [0.0656, 0.5478], [0.0665, 0.5515],
  [0.0603, 0.5728], [0.0481, 0.5728], [0.0401, 0.567], [0.0449, 0.5367], [0.0662, 0.535], [0.0576, 0.5339], [0.0549, 0.534], [0.0684, 0.541], [0.061, 0.5712], [0.0397, 0.549], [0.0713, 0.549], [0.0708, 0.5462], [0.0391, 0.5565], [0.0715, 0.5575], [0.0618, 0.5735], [0.0455, 0.5702], [0.0437, 0.5405], [0.0522, 0.5335], [0.0642, 0.5371],
];

// ---------------- helpers ----------------
const lin = (d: [number, number], r: [number, number]) => d3.scaleLinear().domain(d).range(r);
type S = d3.ScaleLinear<number, number>;

function Axes(props: {
  xs: S; ys: S; xMaj: number[]; xMin: number[]; yMaj: number[]; yMin: number[];
  xf: (v: number) => string; yf: (v: number) => string; xOff: number; yGap: number;
}) {
  const { xs, ys, xMaj, xMin, yMaj, yMin, xf, yf, xOff, yGap } = props;
  const [xa, xb] = xs.range();
  const [yb, ya] = ys.range();
  return (
    <g fontFamily={FONT} fontSize={13.5} fill="#000">
      <line x1={xa} x2={xb} y1={yb} y2={yb} stroke="#000" strokeWidth={1.6} />
      <line x1={xa} x2={xa} y1={yb} y2={ya} stroke="#000" strokeWidth={1.6} />
      {xMaj.map((v) => (
        <g key={"xM" + v}>
          <line x1={xs(v)} x2={xs(v)} y1={yb} y2={yb + 5} stroke="#000" strokeWidth={1.2} />
          <text x={xs(v)} y={yb + xOff} textAnchor="middle">{xf(v)}</text>
        </g>
      ))}
      {xMin.map((v) => (
        <line key={"xm" + v} x1={xs(v)} x2={xs(v)} y1={yb} y2={yb + 3} stroke="#000" strokeWidth={1} />
      ))}
      {yMaj.map((v) => (
        <g key={"yM" + v}>
          <line x1={xa - 5} x2={xa} y1={ys(v)} y2={ys(v)} stroke="#000" strokeWidth={1.2} />
          <text x={xa - yGap} y={ys(v) + 4.8} textAnchor="end">{yf(v)}</text>
        </g>
      ))}
      {yMin.map((v) => (
        <line key={"ym" + v} x1={xa - 3} x2={xa} y1={ys(v)} y2={ys(v)} stroke="#000" strokeWidth={1} />
      ))}
    </g>
  );
}

function YLabel({ x, y, len }: { x: number; y: number; len: number }) {
  return (
    <text transform={`translate(${x},${y}) rotate(-90)`} textAnchor="middle" fontFamily={FONT} fontSize={15.5}
      textLength={len} lengthAdjust="spacingAndGlyphs">
      Interfacial Friction Force, F<tspan fontSize={10} dy={4}>i</tspan><tspan dy={-4}> (mN)</tspan>
    </text>
  );
}

function TimeLabel({ x, y, len }: { x: number; y: number; len: number }) {
  return (
    <text x={x} y={y} textAnchor="middle" fontFamily={FONT} fontSize={21} textLength={len} lengthAdjust="spacingAndGlyphs">
      Time, t (sec)
    </text>
  );
}

function VelLabel({ x, y, len, word, space }: { x: number; y: number; len: number; word: string; space: boolean }) {
  return (
    <text x={x} y={y} textAnchor="middle" fontFamily={FONT} fontSize={21} textLength={len} lengthAdjust="spacingAndGlyphs">
      {`Relative ${word}, V`}<tspan fontSize={13} dy={5}>i</tspan><tspan dy={-5}>{space ? " (μm/sec)" : "(μm/sec)"}</tspan>
    </text>
  );
}

function Title({ lx, vx, y, letter, text, w }: { lx: number; vx: number; y: number; letter: string; text: string; w: number }) {
  return (
    <g fontFamily={FONT} fontWeight="bold" fontSize={25}>
      <text x={lx} y={y}>{letter}</text>
      <text x={vx} y={y} textLength={w} lengthAdjust="spacingAndGlyphs">{text}</text>
    </g>
  );
}

const lineGen = (xs: S, ys: S, curve?: d3.CurveFactory) => {
  const g = d3.line<P>().x((d) => xs(d[0])).y((d) => ys(d[1]));
  if (curve) g.curve(curve);
  return g;
};

const f0 = (v: number) => String(v);
const f1 = (v: number) => v.toFixed(1);
const f2 = (v: number) => v.toFixed(2);

export default function App() {
  const aLx = lin([2950, 3700], [68, 466]), aLy = lin([1.5, 3.0], [345.7, 59.6]);
  const aRx = lin([-0.01, 0.2215], [548.3, 960]), aRy = lin([1.5, 3.0], [342.6, 62.7]);
  const bLx = lin([0, 700], [69, 472.7]), bLy = lin([0.75, 1.3], [771.2, 482.9]);
  const bRx = lin([-0.05, 0.322], [552.3, 964.5]), bRy = lin([0.75, 1.3], [768.5, 494]);
  const cLx = lin([0, 200], [69.3, 459.3]), cLy = lin([0.5, 0.825], [1166.7, 901.3]);
  const cRx = lin([-0.05, 0.324], [559.1, 964.3]), cRy = lin([0.5, 0.826], [1167.3, 910.5]);
  const dLx = lin([0, 100], [69.3, 465]), dLy = lin([0.5, 0.6], [1565, 1302.7]);
  const dRx = lin([0, 0.1], [560, 955]), dRy = lin([0.5, 0.6], [1567.7, 1309.3]);

  const dLeftSeries: P[] = dLeftForce.map((f, i) => [i * dLeftStep, f]);
  const dBand = d3.area<number>()
    .x((i) => dLx(dBandUpper[i][0]))
    .y0((i) => dLy(dBandLower[i][1]))
    .y1((i) => dLy(dBandUpper[i][1]))(dBandUpper.map((_, i) => i)) || "";

  const arrow = (pts: P[], xs: S, ys: S, key: string, w = 1.4) => (
    <path key={key} d={lineGen(xs, ys, d3.curveCatmullRom)(pts) || ""} fill="none" stroke="#000" strokeWidth={w} markerEnd="url(#ah)" />
  );

  return (
    <div style={{ position: "absolute", left: 0, top: 0 }}>
      <svg width={965} height={1628} viewBox="0 0 965 1628" style={{ display: "block", background: "#fff" }}>
        <defs>
          <marker id="ah" viewBox="0 0 10 10" refX={9} refY={5} markerWidth={10} markerHeight={6} markerUnits="userSpaceOnUse" orient="auto">
            <path d="M0,0 L10,5 L0,10 z" fill="#000" />
          </marker>
        </defs>
        <rect x={0} y={0} width={965} height={1628} fill="#fff" />

        <Title lx={347} vx={405} y={31.7} letter="a" text="V=0.0055 μm/sec" w={241.7} />
        <Title lx={351.7} vx={415} y={462.7} letter="b" text="V=0.011 μm/sec" w={221.7} />
        <Title lx={328} vx={388} y={881.7} letter="c" text="V=0.022 μm/sec" w={213.7} />
        <Title lx={328} vx={388} y={1279.3} letter="d" text="V=0.050 μm/sec" w={213.7} />

        {/* a left */}
        <path d={lineGen(aLx, aLy)(aLeftSeries) || ""} fill="none" stroke="#000" strokeWidth={1.1} />
        <Axes xs={aLx} ys={aLy} xMaj={[3000, 3200, 3400, 3600]} xMin={[3100, 3300, 3500, 3700]}
          yMaj={[1.5, 2.0, 2.5, 3.0]} yMin={[1.75, 2.25, 2.75]} xf={f0} yf={f1} xOff={24} yGap={8} />
        <YLabel x={25.5} y={216.5} len={257} />
        <TimeLabel x={293} y={401.7} len={123} />

        {/* a right */}
        <path d={lineGen(aRx, aRy)(aStickRegion) + "Z"} fill="#000" stroke="#000" strokeWidth={1.5} strokeLinejoin="round" />
        {aStickEdge.map((p, i) => (
          <circle key={"ae" + i} cx={aRx(p[0])} cy={aRy(p[1])} r={2.4} fill="#000" />
        ))}
        {aSlipPoints.map((p, i) => (
          <circle key={"as" + i} cx={aRx(p[0])} cy={aRy(p[1])} r={2.4} fill="#000" />
        ))}
        {arrow(aAccArrow, aRx, aRy, "aacc", 1.6)}
        {arrow(aDecArrow, aRx, aRy, "adec", 1.6)}
        {arrow(aStickArrow, aRx, aRy, "astk", 1.3)}
        <g fontFamily={FONT} fontSize={15}>
          <text x={aRx(0.0264)} y={aRy(2.854)} textLength={121} lengthAdjust="spacingAndGlyphs">SLIP-Acceleration</text>
          <text x={aRx(0.0236)} y={aRy(2.3205)} textLength={44.7} lengthAdjust="spacingAndGlyphs">STICK</text>
          <text x={aRx(0.0772)} y={aRy(1.818)} textLength={123} lengthAdjust="spacingAndGlyphs">SLIP-Deceleration</text>
        </g>
        <Axes xs={aRx} ys={aRy} xMaj={[0, 0.05, 0.1, 0.15, 0.2]} xMin={[0.025, 0.075, 0.125, 0.175]}
          yMaj={[1.6, 1.8, 2.0, 2.2, 2.4, 2.6, 2.8, 3.0]} yMin={[1.5, 1.7, 1.9, 2.1, 2.3, 2.5, 2.7, 2.9]} xf={f2} yf={f1} xOff={24} yGap={11} />
        <YLabel x={503.5} y={216.5} len={253} />
        <VelLabel x={754} y={401} len={292} word="Velocity" space={true} />

        {/* b left */}
        <path d={lineGen(bLx, bLy)(bLeftSeries) || ""} fill="none" stroke="#000" strokeWidth={1.15} />
        <Axes xs={bLx} ys={bLy} xMaj={[0, 200, 400, 600]} xMin={[100, 300, 500, 700]}
          yMaj={[0.8, 1.0, 1.2]} yMin={[0.9, 1.1, 1.3]} xf={f0} yf={f1} xOff={22} yGap={9} />
        <YLabel x={26.5} y={635.5} len={255} />
        <TimeLabel x={271.5} y={821.7} len={127} />

        {/* b right */}
        {bLoops.map((lp, i) => (
          <path key={"bl" + i} d={lineGen(bRx, bRy)(lp) || ""} fill="none" stroke="#000" strokeWidth={0.9} />
        ))}
        {bLoops.map((lp, i) =>
          lp.map((p, j) => (
            <rect key={`bq${i}-${j}`} x={bRx(p[0]) - 1.8} y={bRy(p[1]) - 1.8} width={3.6} height={3.6} fill="#000" />
          ))
        )}
        {bLowerPts.map((p, i) => (
          <rect key={"blp" + i} x={bRx(p[0]) - 1.8} y={bRy(p[1]) - 1.8} width={3.6} height={3.6} fill="#000" />
        ))}
        <path d={lineGen(bRx, bRy)(bStickRegion) + "Z"} fill="#000" stroke="#000" strokeWidth={1.5} strokeLinejoin="round" />
        {bStickStray.map((p, i) => (
          <rect key={"bs" + i} x={bRx(p[0]) - 1.8} y={bRy(p[1]) - 1.8} width={3.6} height={3.6} fill="#000" />
        ))}
        {arrow(bAccArrow, bRx, bRy, "bacc", 1.6)}
        {arrow(bDecArrow, bRx, bRy, "bdec", 1.6)}
        <g fontFamily={FONT} fontSize={14}>
          <text x={bRx(0.0237)} y={bRy(1.2493)} textLength={111} lengthAdjust="spacingAndGlyphs">SLIP-Acceleration</text>
          <text x={bRx(0.0141)} y={bRy(0.984)} textLength={40.7} lengthAdjust="spacingAndGlyphs">STICK</text>
          <text x={bRx(0.1585)} y={bRy(0.8224)} textLength={111.7} lengthAdjust="spacingAndGlyphs">SLIP-Deceleration</text>
        </g>
        <Axes xs={bRx} ys={bRy} xMaj={[0, 0.1, 0.2, 0.3]} xMin={[-0.05, 0.05, 0.15, 0.25]}
          yMaj={[0.8, 0.9, 1.0, 1.1, 1.2, 1.3]} yMin={[0.75, 0.85, 0.95, 1.05, 1.15, 1.25]} xf={f1} yf={f1} xOff={22} yGap={8} />
        <YLabel x={505} y={635} len={256} />
        <VelLabel x={761} y={818.3} len={288} word="velocity" space={true} />

        {/* c left */}
        <path d={lineGen(cLx, cLy)(cLeftSeries) || ""} fill="none" stroke="#000" strokeWidth={1} />
        <Axes xs={cLx} ys={cLy} xMaj={[0, 100, 200]} xMin={[50, 150]}
          yMaj={[0.5, 0.6, 0.7, 0.8]} yMin={[0.55, 0.65, 0.75]} xf={f0} yf={f1} xOff={20} yGap={8} />
        <YLabel x={25} y={1031.5} len={247} />
        <TimeLabel x={264.5} y={1218.3} len={121} />

        {/* c right */}
        <path d={lineGen(cRx, cRy)(cStickRegion) + "Z"} fill="#111" stroke="#111" strokeWidth={1} strokeLinejoin="round" />
        <path d={lineGen(cRx, cRy)(cStickJitter) || ""} fill="none" stroke="#000" strokeWidth={0.9} />
        {cLoops.map((lp, i) => (
          <path key={"cl" + i} d={lineGen(cRx, cRy)(lp) || ""} fill="none" stroke="#000" strokeWidth={0.9} />
        ))}
        <Axes xs={cRx} ys={cRy} xMaj={[-0.05, 0, 0.05, 0.1, 0.15, 0.2, 0.25, 0.3]} xMin={[-0.025, 0.025, 0.075, 0.125, 0.175, 0.225, 0.275]}
          yMaj={[0.5, 0.6, 0.7, 0.8]} yMin={[0.55, 0.65, 0.75]} xf={f2} yf={f1} xOff={21} yGap={6.5} />
        <YLabel x={501.5} y={1031.5} len={247} />
        <VelLabel x={762.5} y={1218.3} len={275} word="Velocity" space={false} />

        {/* d left */}
        <path d={dBand} fill="#000" />
        <path d={lineGen(dLx, dLy)(dLeftSeries) || ""} fill="none" stroke="#000" strokeWidth={1} />
        <Axes xs={dLx} ys={dLy} xMaj={[0, 20, 40, 60, 80, 100]} xMin={[10, 30, 50, 70, 90]}
          yMaj={[0.5, 0.55, 0.6]} yMin={[0.525, 0.575]} xf={f0} yf={f2} xOff={20} yGap={8} />
        <YLabel x={24} y={1439.5} len={245} />
        <TimeLabel x={267.5} y={1613.3} len={121} />

        {/* d right */}
        <path d={lineGen(dRx, dRy)(dCoreRegion) + "Z"} fill="#000" stroke="#000" strokeWidth={1.5} strokeLinejoin="round" />
        {dRightPoints.map((p, i) => (
          <rect key={"dp" + i} x={dRx(p[0]) - 1.1} y={dRy(p[1]) - 1.1} width={2.2} height={2.2} fill="#000" />
        ))}
        <Axes xs={dRx} ys={dRy} xMaj={[0, 0.02, 0.04, 0.06, 0.08, 0.1]} xMin={[0.01, 0.03, 0.05, 0.07, 0.09]}
          yMaj={[0.5, 0.55, 0.6]} yMin={[0.525, 0.575]} xf={f2} yf={f2} xOff={19} yGap={9} />
        <YLabel x={501.5} y={1439.5} len={245} />
        <VelLabel x={757} y={1611.7} len={276} word="Velocity" space={false} />
      </svg>
    </div>
  );
}
